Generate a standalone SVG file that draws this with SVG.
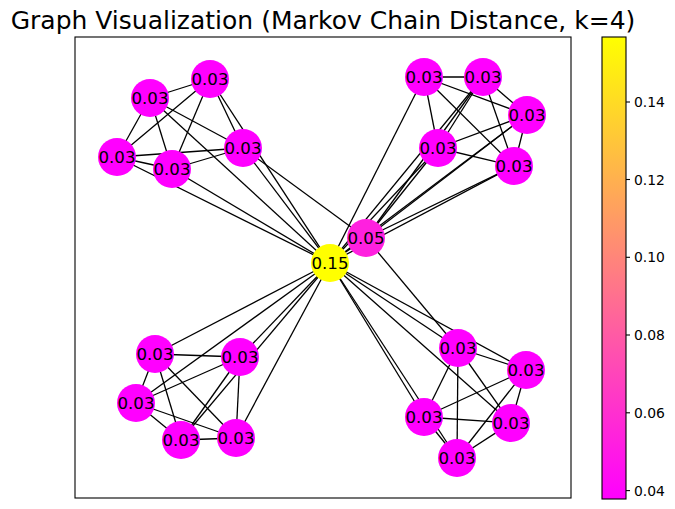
<svg xmlns="http://www.w3.org/2000/svg" width="675" height="509" viewBox="0 0 675 509">
  <defs>
    <linearGradient id="spring" x1="0" y1="1" x2="0" y2="0">
      <stop offset="0" stop-color="#ff00ff"/>
      <stop offset="1" stop-color="#ffff00"/>
    </linearGradient>
    <style>
      .frame { fill: none; stroke: #000; stroke-width: 1.1; }
      .edges line { stroke: #000; stroke-width: 1.3; }
      .node circle { stroke: none; }
      .lo { fill: #ff00ff; }
      .mid { fill: #ff20df; }
      .hi { fill: #ffff00; }
      .node text { font-family: "DejaVu Sans", sans-serif; font-size: 16.67px; text-anchor: middle; fill: #000; }
      .title { font-family: "DejaVu Sans", sans-serif; font-size: 25px; text-anchor: middle; fill: #000; }
      .tick { stroke: #000; stroke-width: 1.1; }
      .ticklabel { font-family: "DejaVu Sans", sans-serif; font-size: 13.9px; fill: #000; }
    </style>
  </defs>
  <rect width="675" height="509" fill="#fff"/>

  <text class="title" x="323" y="29">Graph Visualization (Markov Chain Distance, k=4)</text>

  <!-- plot area -->
  <rect class="frame" x="75" y="37" width="496" height="461"/>

  <g id="connectors" class="edges">
    <!-- cluster 1 (upper left) -->
    <line x1="150" y1="98" x2="210" y2="79"/>
    <line x1="150" y1="98" x2="117" y2="157"/>
    <line x1="150" y1="98" x2="172" y2="169"/>
    <line x1="150" y1="98" x2="243" y2="148"/>
    <line x1="210" y1="79" x2="117" y2="157"/>
    <line x1="210" y1="79" x2="172" y2="169"/>
    <line x1="210" y1="79" x2="243" y2="148"/>
    <line x1="117" y1="157" x2="172" y2="169"/>
    <line x1="117" y1="157" x2="243" y2="148"/>
    <line x1="172" y1="169" x2="243" y2="148"/>
    <line x1="150" y1="98" x2="330" y2="263"/>
    <line x1="210" y1="79" x2="330" y2="263"/>
    <line x1="117" y1="157" x2="330" y2="263"/>
    <line x1="172" y1="169" x2="330" y2="263"/>
    <line x1="243" y1="148" x2="330" y2="263"/>
    <line x1="243" y1="148" x2="366" y2="238"/>
    <!-- cluster 2 (upper right) -->
    <line x1="424" y1="77" x2="483" y2="77"/>
    <line x1="424" y1="77" x2="527" y2="115"/>
    <line x1="424" y1="77" x2="438" y2="148"/>
    <line x1="424" y1="77" x2="514" y2="166"/>
    <line x1="483" y1="77" x2="527" y2="115"/>
    <line x1="483" y1="77" x2="438" y2="148"/>
    <line x1="483" y1="77" x2="514" y2="166"/>
    <line x1="527" y1="115" x2="438" y2="148"/>
    <line x1="527" y1="115" x2="514" y2="166"/>
    <line x1="438" y1="148" x2="514" y2="166"/>
    <line x1="424" y1="77" x2="330" y2="263"/>
    <line x1="483" y1="77" x2="330" y2="263"/>
    <line x1="438" y1="148" x2="330" y2="263"/>
    <line x1="527" y1="115" x2="330" y2="263"/>
    <line x1="514" y1="166" x2="330" y2="263"/>
    <line x1="483" y1="77" x2="366" y2="238"/>
    <line x1="438" y1="148" x2="366" y2="238"/>
    <line x1="527" y1="115" x2="366" y2="238"/>
    <line x1="514" y1="166" x2="366" y2="238"/>
    <!-- cluster 3 (lower left) -->
    <line x1="155" y1="354" x2="240" y2="357"/>
    <line x1="155" y1="354" x2="136" y2="403"/>
    <line x1="155" y1="354" x2="181" y2="440"/>
    <line x1="155" y1="354" x2="236" y2="438"/>
    <line x1="240" y1="357" x2="136" y2="403"/>
    <line x1="240" y1="357" x2="181" y2="440"/>
    <line x1="240" y1="357" x2="236" y2="438"/>
    <line x1="136" y1="403" x2="181" y2="440"/>
    <line x1="136" y1="403" x2="236" y2="438"/>
    <line x1="181" y1="440" x2="236" y2="438"/>
    <line x1="155" y1="354" x2="330" y2="263"/>
    <line x1="240" y1="357" x2="330" y2="263"/>
    <line x1="136" y1="403" x2="330" y2="263"/>
    <line x1="181" y1="440" x2="330" y2="263"/>
    <line x1="236" y1="438" x2="330" y2="263"/>
    <!-- cluster 4 (lower right) -->
    <line x1="458" y1="348" x2="526" y2="370"/>
    <line x1="458" y1="348" x2="424" y2="417"/>
    <line x1="458" y1="348" x2="511" y2="423"/>
    <line x1="458" y1="348" x2="457" y2="458"/>
    <line x1="526" y1="370" x2="424" y2="417"/>
    <line x1="526" y1="370" x2="511" y2="423"/>
    <line x1="526" y1="370" x2="457" y2="458"/>
    <line x1="424" y1="417" x2="511" y2="423"/>
    <line x1="424" y1="417" x2="457" y2="458"/>
    <line x1="511" y1="423" x2="457" y2="458"/>
    <line x1="458" y1="348" x2="330" y2="263"/>
    <line x1="526" y1="370" x2="330" y2="263"/>
    <line x1="424" y1="417" x2="330" y2="263"/>
    <line x1="511" y1="423" x2="330" y2="263"/>
    <line x1="457" y1="458" x2="330" y2="263"/>
    <line x1="458" y1="348" x2="366" y2="238"/>
    <!-- hubs -->
    <line x1="330" y1="263" x2="366" y2="238"/>
  </g>

  <g id="n1" class="node"><circle class="lo" cx="150" cy="98" r="19"/><text x="150" y="104">0.03</text></g>
  <g id="n2" class="node"><circle class="lo" cx="210" cy="79" r="19"/><text x="210" y="85">0.03</text></g>
  <g id="n3" class="node"><circle class="lo" cx="117" cy="157" r="19"/><text x="117" y="163">0.03</text></g>
  <g id="n4" class="node"><circle class="lo" cx="172" cy="169" r="19"/><text x="172" y="175">0.03</text></g>
  <g id="n5" class="node"><circle class="lo" cx="243" cy="148" r="19"/><text x="243" y="154">0.03</text></g>

  <g id="n6" class="node"><circle class="lo" cx="424" cy="77" r="19"/><text x="424" y="83">0.03</text></g>
  <g id="n7" class="node"><circle class="lo" cx="483" cy="77" r="19"/><text x="483" y="83">0.03</text></g>
  <g id="n8" class="node"><circle class="lo" cx="527" cy="115" r="19"/><text x="527" y="121">0.03</text></g>
  <g id="n9" class="node"><circle class="lo" cx="438" cy="148" r="19"/><text x="438" y="154">0.03</text></g>
  <g id="n10" class="node"><circle class="lo" cx="514" cy="166" r="19"/><text x="514" y="172">0.03</text></g>

  <g id="n11" class="node"><circle class="lo" cx="155" cy="354" r="19"/><text x="155" y="360">0.03</text></g>
  <g id="n12" class="node"><circle class="lo" cx="240" cy="357" r="19"/><text x="240" y="363">0.03</text></g>
  <g id="n13" class="node"><circle class="lo" cx="136" cy="403" r="19"/><text x="136" y="409">0.03</text></g>
  <g id="n14" class="node"><circle class="lo" cx="181" cy="440" r="19"/><text x="181" y="446">0.03</text></g>
  <g id="n15" class="node"><circle class="lo" cx="236" cy="438" r="19"/><text x="236" y="444">0.03</text></g>

  <g id="n16" class="node"><circle class="lo" cx="458" cy="348" r="19"/><text x="458" y="354">0.03</text></g>
  <g id="n17" class="node"><circle class="lo" cx="526" cy="370" r="19"/><text x="526" y="376">0.03</text></g>
  <g id="n18" class="node"><circle class="lo" cx="424" cy="417" r="19"/><text x="424" y="423">0.03</text></g>
  <g id="n19" class="node"><circle class="lo" cx="511" cy="423" r="19"/><text x="511" y="429">0.03</text></g>
  <g id="n20" class="node"><circle class="lo" cx="457" cy="458" r="19"/><text x="457" y="464">0.03</text></g>

  <g id="hub-b" class="node"><circle class="mid" cx="366" cy="238" r="19"/><text x="366" y="244">0.05</text></g>
  <g id="hub-a" class="node"><circle class="hi" cx="330" cy="263" r="19"/><text x="330" y="269">0.15</text></g>

  <!-- colour bar -->
  <g id="colorbar">
    <rect x="602" y="37" width="24" height="462" fill="url(#spring)"/>
    <rect class="frame" x="602" y="37" width="24" height="462"/>
    <line class="tick" x1="626" y1="102" x2="630" y2="102"/>
    <line class="tick" x1="626" y1="179.5" x2="630" y2="179.5"/>
    <line class="tick" x1="626" y1="257.3" x2="630" y2="257.3"/>
    <line class="tick" x1="626" y1="335" x2="630" y2="335"/>
    <line class="tick" x1="626" y1="412.8" x2="630" y2="412.8"/>
    <line class="tick" x1="626" y1="490.6" x2="630" y2="490.6"/>
    <text class="ticklabel" x="634" y="107">0.14</text>
    <text class="ticklabel" x="634" y="184.5">0.12</text>
    <text class="ticklabel" x="634" y="262.3">0.10</text>
    <text class="ticklabel" x="634" y="340">0.08</text>
    <text class="ticklabel" x="634" y="417.8">0.06</text>
    <text class="ticklabel" x="634" y="495.6">0.04</text>
  </g>
</svg>
